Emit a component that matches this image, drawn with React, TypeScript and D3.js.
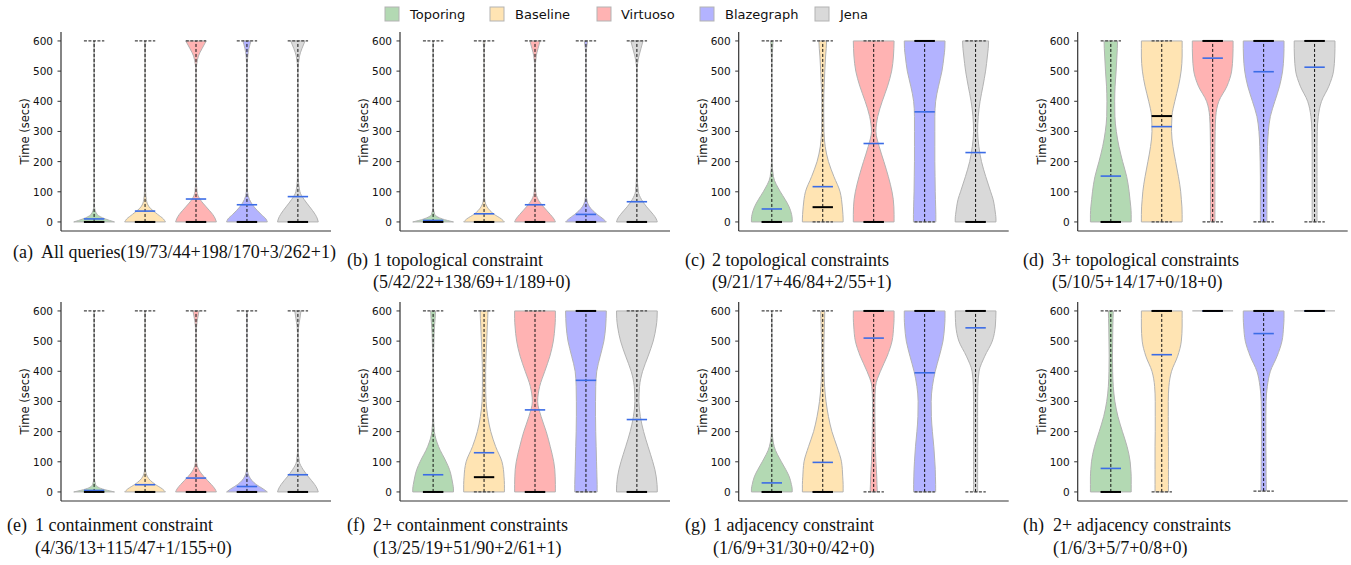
import React from 'react';
import * as d3 from 'd3';

const systems = ['Toporing', 'Baseline', 'Virtuoso', 'Blazegraph', 'Jena'];
const fillColors = ['#b3d9b3', '#ffe4b3', '#ffb3b3', '#b3b3ff', '#d9d9d9'];
const yTicks = [0, 100, 200, 300, 400, 500, 600];

// seconds at which the violin widths below were read (relative width, 1 = widest)
const timeGrid = [0, 10, 25, 50, 75, 100, 150, 200, 250, 300, 350, 400, 450, 500, 550, 575, 600];

const captionTags = ['(a)', '(b)', '(c)', '(d)', '(e)', '(f)', '(g)', '(h)'];
const captionLines = [
  ['All queries(19/73/44+198/170+3/262+1)'],
  ['1 topological constraint', '(5/42/22+138/69+1/189+0)'],
  ['2 topological constraints', '(9/21/17+46/84+2/55+1)'],
  ['3+ topological constraints', '(5/10/5+14/17+0/18+0)'],
  ['1 containment constraint', '(4/36/13+115/47+1/155+0)'],
  ['2+ containment constraints', '(13/25/19+51/90+2/61+1)'],
  ['1 adjacency constraint', '(1/6/9+31/30+0/42+0)'],
  ['2+ adjacency constraints', '(1/6/3+5/7+0/8+0)'],
];

const densityA = [
  [1, 0.55, 0.15, 0.02, 0.01, 0.01, 0.01, 0.01, 0.01, 0.01, 0.01, 0.01, 0.01, 0.01, 0.01, 0.01, 0.02],
  [1, 0.9, 0.62, 0.2, 0.06, 0.03, 0.015, 0.01, 0.01, 0.01, 0.01, 0.01, 0.01, 0.01, 0.01, 0.02, 0.03],
  [1, 0.95, 0.82, 0.5, 0.2, 0.05, 0.01, 0.01, 0.01, 0.01, 0.01, 0.01, 0.01, 0.01, 0.12, 0.3, 0.5],
  [1, 0.93, 0.7, 0.35, 0.12, 0.03, 0.01, 0.01, 0.01, 0.01, 0.01, 0.01, 0.01, 0.01, 0.04, 0.1, 0.2],
  [1, 0.96, 0.85, 0.58, 0.3, 0.1, 0.02, 0.01, 0.01, 0.01, 0.01, 0.01, 0.01, 0.01, 0.08, 0.2, 0.35],
];
const densityB = [
  [1, 0.45, 0.08, 0.01, 0.01, 0.01, 0.01, 0.01, 0.01, 0.01, 0.01, 0.01, 0.01, 0.01, 0.01, 0.01, 0.01],
  [1, 0.85, 0.5, 0.15, 0.03, 0.01, 0.01, 0.01, 0.01, 0.01, 0.01, 0.01, 0.01, 0.01, 0.01, 0.02, 0.04],
  [1, 0.93, 0.75, 0.42, 0.15, 0.04, 0.01, 0.01, 0.01, 0.01, 0.01, 0.01, 0.01, 0.01, 0.06, 0.15, 0.25],
  [1, 0.85, 0.55, 0.18, 0.04, 0.01, 0.01, 0.01, 0.01, 0.01, 0.01, 0.01, 0.01, 0.01, 0.01, 0.03, 0.08],
  [1, 0.95, 0.8, 0.48, 0.22, 0.07, 0.02, 0.01, 0.01, 0.01, 0.01, 0.01, 0.01, 0.01, 0.1, 0.2, 0.3],
];
const densityC = [
  [1, 1, 0.97, 0.85, 0.65, 0.42, 0.08, 0.015, 0.01, 0.01, 0.01, 0.01, 0.01, 0.01, 0.02, 0.04, 0.06],
  [1, 1, 0.99, 0.96, 0.92, 0.85, 0.55, 0.28, 0.12, 0.06, 0.05, 0.05, 0.07, 0.1, 0.14, 0.17, 0.19],
  [1, 1, 1, 0.99, 0.96, 0.9, 0.72, 0.5, 0.27, 0.11, 0.2, 0.42, 0.68, 0.88, 0.97, 0.99, 1],
  [0.55, 0.55, 0.55, 0.54, 0.53, 0.52, 0.51, 0.5, 0.5, 0.5, 0.5, 0.54, 0.68, 0.85, 0.95, 0.99, 1],
  [1, 1, 0.98, 0.93, 0.86, 0.74, 0.5, 0.29, 0.16, 0.1, 0.13, 0.22, 0.36, 0.49, 0.58, 0.62, 0.64],
];
const densityD = [
  [1, 1, 1, 0.98, 0.94, 0.9, 0.78, 0.58, 0.4, 0.27, 0.2, 0.19, 0.21, 0.26, 0.3, 0.32, 0.33],
  [1, 1, 1, 0.99, 0.96, 0.93, 0.82, 0.68, 0.55, 0.48, 0.5, 0.64, 0.82, 0.95, 1, 1, 1],
  [0.11, 0.11, 0.11, 0.11, 0.11, 0.11, 0.11, 0.11, 0.11, 0.12, 0.15, 0.3, 0.7, 0.93, 0.99, 1, 1],
  [0.16, 0.16, 0.16, 0.16, 0.16, 0.16, 0.16, 0.17, 0.19, 0.23, 0.33, 0.55, 0.78, 0.93, 0.99, 1, 1],
  [0.12, 0.12, 0.12, 0.12, 0.12, 0.12, 0.12, 0.12, 0.12, 0.13, 0.18, 0.34, 0.7, 0.93, 0.99, 1, 1],
];
const densityE = [
  [1, 0.4, 0.07, 0.01, 0.01, 0.01, 0.01, 0.01, 0.01, 0.01, 0.01, 0.01, 0.01, 0.01, 0.01, 0.01, 0.01],
  [1, 0.85, 0.5, 0.12, 0.02, 0.01, 0.01, 0.01, 0.01, 0.01, 0.01, 0.01, 0.01, 0.01, 0.01, 0.01, 0.02],
  [1, 0.93, 0.75, 0.4, 0.13, 0.03, 0.01, 0.01, 0.01, 0.01, 0.01, 0.01, 0.01, 0.01, 0.03, 0.08, 0.15],
  [1, 0.8, 0.45, 0.12, 0.02, 0.01, 0.01, 0.01, 0.01, 0.01, 0.01, 0.01, 0.01, 0.01, 0.01, 0.01, 0.02],
  [1, 0.95, 0.82, 0.52, 0.25, 0.07, 0.01, 0.01, 0.01, 0.01, 0.01, 0.01, 0.01, 0.01, 0.04, 0.1, 0.15],
];
const densityF = [
  [1, 1, 0.97, 0.9, 0.8, 0.64, 0.27, 0.06, 0.02, 0.01, 0.01, 0.01, 0.02, 0.04, 0.07, 0.1, 0.12],
  [1, 1, 1, 0.98, 0.95, 0.88, 0.57, 0.33, 0.18, 0.1, 0.08, 0.08, 0.1, 0.13, 0.16, 0.18, 0.19],
  [1, 1, 1, 0.99, 0.97, 0.92, 0.75, 0.55, 0.3, 0.13, 0.23, 0.48, 0.73, 0.9, 0.98, 1, 1],
  [0.55, 0.55, 0.55, 0.54, 0.53, 0.52, 0.5, 0.48, 0.47, 0.47, 0.48, 0.53, 0.7, 0.88, 0.97, 0.99, 1],
  [1, 1, 0.99, 0.95, 0.88, 0.78, 0.55, 0.33, 0.17, 0.1, 0.13, 0.28, 0.55, 0.8, 0.95, 0.99, 1],
];
const densityG = [
  [1, 1, 0.96, 0.86, 0.68, 0.47, 0.12, 0.02, 0.01, 0.01, 0.01, 0.01, 0.01, 0.01, 0.01, 0.01, 0.01],
  [1, 1, 1, 0.98, 0.96, 0.92, 0.7, 0.45, 0.28, 0.16, 0.09, 0.06, 0.05, 0.06, 0.08, 0.09, 0.1],
  [0.17, 0.17, 0.16, 0.15, 0.13, 0.11, 0.08, 0.07, 0.06, 0.06, 0.09, 0.33, 0.66, 0.9, 0.98, 1, 1],
  [0.54, 0.54, 0.54, 0.53, 0.52, 0.5, 0.45, 0.38, 0.33, 0.32, 0.38, 0.52, 0.72, 0.9, 0.98, 1, 1],
  [0.1, 0.1, 0.1, 0.1, 0.1, 0.1, 0.1, 0.1, 0.1, 0.1, 0.11, 0.17, 0.45, 0.82, 0.97, 0.99, 1],
];
const densityH = [
  [1, 1, 1, 1, 0.98, 0.95, 0.8, 0.57, 0.35, 0.2, 0.12, 0.09, 0.08, 0.09, 0.1, 0.11, 0.12],
  [0.33, 0.33, 0.33, 0.33, 0.33, 0.33, 0.33, 0.32, 0.32, 0.32, 0.35, 0.48, 0.78, 0.96, 1, 1, 1],
  [],
  [0.13, 0.13, 0.13, 0.12, 0.12, 0.12, 0.11, 0.11, 0.11, 0.12, 0.18, 0.33, 0.66, 0.9, 0.98, 1, 1],
  [],
];
const densities = [densityA, densityB, densityC, densityD, densityE, densityF, densityG, densityH];

const means = [
  [10, 36, 76, 57, 84],
  [5, 27, 57, 25, 67],
  [43, 117, 260, 365, 230],
  [152, 316, 543, 498, 513],
  [5, 24, 46, 18, 57],
  [57, 130, 272, 370, 240],
  [30, 98, 510, 395, 544],
  [78, 455, 600, 525, 600],
];
const medians = [
  [0, 0, 0, 0, 0],
  [0, 0, 0, 0, 0],
  [0, 49, 0, 600, 0],
  [0, 351, 600, 600, 600],
  [0, 0, 0, 0, 0],
  [0, 49, 0, 600, 0],
  [0, 0, 600, 600, 600],
  [0, 600, 600, 600, 600],
];
const mins = [
  [0, 0, 0, 0, 0],
  [0, 0, 0, 0, 0],
  [0, 0, 0, 0, 0],
  [0, 0, 0, 0, 0],
  [0, 0, 0, 0, 0],
  [0, 0, 0, 0, 0],
  [0, 0, 0, 0, 0],
  [0, 0, 600, 3, 600],
];
const maxs = [
  [600, 600, 600, 600, 600],
  [600, 600, 600, 600, 600],
  [600, 600, 600, 600, 600],
  [600, 600, 600, 600, 600],
  [600, 600, 600, 600, 600],
  [600, 600, 600, 600, 600],
  [600, 600, 600, 600, 600],
  [600, 600, 600, 600, 600],
];

// layout
const colLeft = [61, 400, 738.7, 1077.7];
const rowBottom = [231, 501];
const plotW = 270;
const plotH = 199.1;
const tagX = [13, 347, 685, 1023, 7, 347, 685, 1023];
const textX = [41, 373, 712, 1052, 35, 373, 713, 1053];
const lineY = [[258], [266, 288], [266, 288], [266, 288], [531, 554], [531, 554], [531, 554], [531, 554]];
const legendBoxX = [385, 490, 597, 700, 815];
const legendTextX = [410, 515, 621, 725, 840];

const sans = 'DejaVu Sans, sans-serif';
const serif = 'Liberation Serif, Times New Roman, serif';

const Panel = ({ idx }: { idx: number }) => {
  const col = idx % 4;
  const row = Math.floor(idx / 4);
  const left = colLeft[col];
  const bottom = rowBottom[row];

  const x = d3.scaleLinear().domain([0.35, 5.65]).range([left, left + plotW]);
  const y = d3.scaleLinear().domain([-30, 630]).range([bottom, bottom - plotH]);
  const halfW = x(1.4) - x(1);
  const capW = halfW / 2;

  return (
    <g>
      {systems.map((s, i) => {
        const cx = x(i + 1);
        const lo = mins[idx][i];
        const hi = maxs[idx][i];
        const dens = densities[idx][i];
        let body;
        if (lo === hi || dens.length === 0) {
          body = <line x1={cx - halfW} x2={cx + halfW} y1={y(hi)} y2={y(hi)} stroke="#b3b3b3" strokeWidth={1.2} />;
        } else {
          const pts = timeGrid.map((t, k) => ({ t: Math.min(Math.max(t, lo), hi), w: dens[k] }))
            .filter((p, k, arr) => k === 0 || p.t !== arr[k - 1].t);
          const area = d3.area<{ t: number; w: number }>()
            .y(d => y(d.t))
            .x0(d => cx - halfW * d.w)
            .x1(d => cx + halfW * d.w)
            .curve(d3.curveMonotoneY);
          body = <path d={area(pts) || ''} fill={fillColors[i]} stroke="#b3b3b3" strokeWidth={1} />;
        }
        return (
          <g key={s}>
            {body}
            {lo !== hi && (
              <line x1={cx} x2={cx} y1={y(lo)} y2={y(hi)} stroke="#111" strokeWidth={1} strokeDasharray="3,2" />
            )}
            <line x1={cx - capW} x2={cx + capW} y1={y(lo)} y2={y(lo)} stroke="#444" strokeWidth={1.3} strokeDasharray="3,1.5" />
            <line x1={cx - capW} x2={cx + capW} y1={y(hi)} y2={y(hi)} stroke="#444" strokeWidth={1.3} strokeDasharray="3,1.5" />
            <line x1={cx - capW} x2={cx + capW} y1={y(means[idx][i])} y2={y(means[idx][i])} stroke="#3b6ce6" strokeWidth={1.6} />
            <line x1={cx - capW} x2={cx + capW} y1={y(medians[idx][i])} y2={y(medians[idx][i])} stroke="#000" strokeWidth={2} />
          </g>
        );
      })}

      {/* axes */}
      <line x1={left} x2={left} y1={y(630)} y2={bottom} stroke="#333" strokeWidth={1.2} />
      <line x1={left} x2={left + plotW} y1={bottom} y2={bottom} stroke="#333" strokeWidth={1.2} />
      {yTicks.map(t => (
        <g key={t}>
          <line x1={left - 3.5} x2={left} y1={y(t)} y2={y(t)} stroke="#333" strokeWidth={1} />
          <text x={left - 8} y={y(t)} textAnchor="end" dominantBaseline="central" fontFamily={sans} fontSize={10.5} fill="#111">{t}</text>
        </g>
      ))}
      <text transform={`translate(${left - 36},${(y(0) + y(600)) / 2}) rotate(-90)`} textAnchor="middle"
        dominantBaseline="central" fontFamily={sans} fontSize={11.5} fill="#111">Time (secs)</text>

      {/* caption */}
      <text x={tagX[idx]} y={lineY[idx][0]} fontFamily={serif} fontSize={18} fill="#111">{captionTags[idx]}</text>
      {captionLines[idx].map((ln, k) => (
        <text key={k} x={textX[idx]} y={lineY[idx][k]} fontFamily={serif} fontSize={18} fill="#111">{ln}</text>
      ))}
    </g>
  );
};

const App = () => {
  return (
    <svg width={1351} height={565} style={{ position: 'absolute', left: 0, top: 0, background: '#fff' }}>
      <rect width={1351} height={565} fill="#fff" />
      {systems.map((s, i) => (
        <g key={s}>
          <rect x={legendBoxX[i]} y={7} width={14} height={14} fill={fillColors[i]} stroke="#b3b3b3" strokeWidth={1} />
          <text x={legendTextX[i]} y={14.5} dominantBaseline="central" fontFamily={sans} fontSize={13} fill="#111">{s}</text>
        </g>
      ))}
      {captionTags.map((c, i) => <Panel key={c} idx={i} />)}
    </svg>
  );
};

export default App;
